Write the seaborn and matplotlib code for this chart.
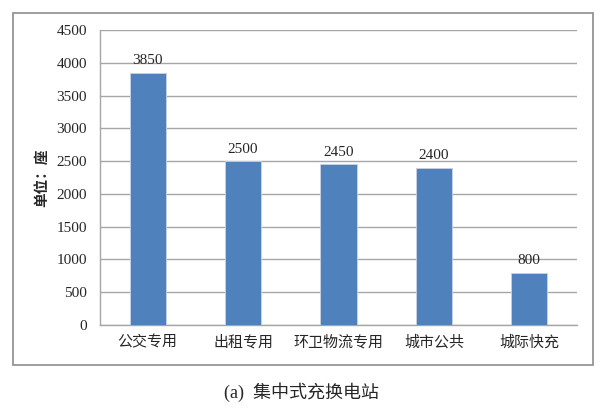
import pandas as pd
import seaborn as sns
import matplotlib.pyplot as plt
import matplotlib.patches as patches

categories = ['公交专用', '出租专用', '环卫物流专用', '城市公共', '城际快充']
stations = [3850, 2500, 2450, 2400, 800]
yticks = [0, 500, 1000, 1500, 2000, 2500, 3000, 3500, 4000, 4500]

df = pd.DataFrame({'category': categories, 'count': stations})

sns.set_style('white')
plt.rcParams['font.family'] = ['Liberation Serif', 'Noto Sans CJK SC']

fig = plt.figure(figsize=(6.04, 4.11), dpi=100)
ax = fig.add_axes([0.1656, 0.2092, 0.7897, 0.7178])

# outer chart frame
fig.patches.append(patches.Rectangle((13 / 604, 1 - 365 / 411), 580 / 604, 352 / 411,
                                     transform=fig.transFigure, fill=False,
                                     edgecolor='#8c8c8c', linewidth=1.2, zorder=0))

ax = sns.barplot(df, x='category', y='count', color='#4F81BD', saturation=1,
                 width=0.38, edgecolor='#c8d3e3', linewidth=0.6, ax=ax, zorder=3)

ax.set_ylim(0, 4500)
ax.set_yticks(yticks)
ax.set_xlim(-0.5, 4.5)
ax.yaxis.grid(True, color='#a6a6a6', linewidth=1.0, zorder=0)
ax.set_axisbelow(True)
for side in ['top', 'right']:
    ax.spines[side].set_visible(False)
ax.spines['left'].set_color('#a6a6a6')
ax.spines['bottom'].set_color('#a6a6a6')
ax.spines['left'].set_linewidth(1.0)
ax.spines['bottom'].set_linewidth(1.0)

ax.tick_params(axis='y', length=0, labelsize=11, pad=9.5)
ax.tick_params(axis='x', length=0, labelsize=10.8, pad=7)
for lbl in ax.get_xticklabels():
    lbl.set_family(['Noto Sans CJK SC'])

ax.set_xlabel('')
ax.set_ylabel('单位：座', fontsize=10.5, fontweight='bold', family=['Noto Sans CJK SC'],
              labelpad=5)

for container in ax.containers:
    ax.bar_label(container, labels=[f'{v:.0f}' for v in container.datavalues],
                 padding=4, fontsize=11)

fig.text(0.5, 1 - 392 / 411, '(a)  集中式充换电站', ha='center', va='center', fontsize=13,
         family=['Liberation Serif', 'Noto Sans CJK SC'])

plt.savefig('out.png', dpi=100)
